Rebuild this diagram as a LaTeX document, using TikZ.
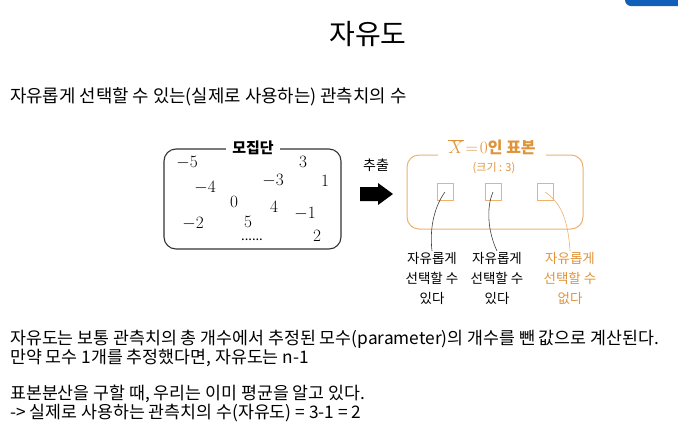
\documentclass[tikz,border=0pt]{standalone}
\usepackage[no-math]{fontspec}
\setmainfont{Noto Sans CJK KR}
\definecolor{orgline}{RGB}{236,178,110}
\definecolor{orgtext}{RGB}{224,148,58}
\definecolor{tabblue}{RGB}{16,96,186}
\begin{document}
\begin{tikzpicture}[x=1pt,y=-1pt,
    body/.style={anchor=west,inner sep=0pt,font=\fontsize{17.3}{20}\selectfont},
    num/.style={inner sep=0pt,font=\fontsize{16}{18}\selectfont},
    slot/.style={draw=orgline,line width=0.9pt,minimum width=16pt,minimum height=17pt,inner sep=0pt},
    note/.style={align=center,inner sep=1pt,font=\fontsize{13.5}{20}\selectfont},
    lead/.style={line width=0.6pt,draw=black!75}]
  \useasboundingbox (0,0) rectangle (678,440);
  % blue tab in the corner
  \fill[tabblue,rounded corners=6pt] (625,-8) -- (625,6) -- (690,6) -- (690,-8) -- cycle;
  \node (title) at (368,34) {\fontsize{28}{32}\selectfont 자유도};
  \node[body,font=\fontsize{17.8}{20}\selectfont] (intro) at (10,97) {자유롭게 선택할 수 있는(실제로 사용하는) 관측치의 수};

  % population
  \draw[line width=1.1pt,black!80,rounded corners=12pt] (164,149) rectangle (341,249);
  \node[fill=white,inner xsep=6pt,inner ysep=1pt,font=\fontsize{15}{18}\selectfont\bfseries] (pop) at (253,148) {모집단};
  \node[num] (n1) at (187,163) {$-5$};
  \node[num] (n2) at (303,162) {$3$};
  \node[num] (n3) at (273,181) {$-3$};
  \node[num] (n4) at (325,181) {$1$};
  \node[num] (n5) at (205,188) {$-4$};
  \node[num] (n6) at (234,202) {$0$};
  \node[num] (n7) at (274,207) {$4$};
  \node[num] (n8) at (305,214) {$-1$};
  \node[num] (n9) at (193,224) {$-2$};
  \node[num] (n10) at (248,222) {$5$};
  \node[inner sep=0pt,font=\fontsize{13}{14}\selectfont] (n11) at (252,240) {......};
  \node[num] (n12) at (317,236) {$2$};

  % extraction arrow
  \node[font=\fontsize{14}{16}\selectfont] (pick) at (376,165) {추출};
  \fill (360,187) -- (378,187) -- (378,183) -- (393,194) -- (378,205) -- (378,201) -- (360,201) -- cycle;

  % sample
  \draw[orgline,line width=1pt,rounded corners=12pt] (407,155) rectangle (583,229);
  \node[fill=white,inner xsep=10pt,inner ysep=1pt,text=orgtext,font=\fontsize{16}{19}\selectfont] (smp) at (492,147)
    {$\overline{X}\!=\!0$\textbf{인 표본}};
  \node[text=orgtext,font=\fontsize{11}{13}\selectfont] (size) at (494,168) {(크기 : 3)};
  \node[slot] (s1) at (445,192) {};
  \node[slot] (s2) at (493,192) {};
  \node[slot] (s3) at (545,192) {};

  \node[note,anchor=north] (l1) at (432,251) {자유롭게\\선택할 수\\있다};
  \node[note,anchor=north] (l2) at (497,251) {자유롭게\\선택할 수\\있다};
  \node[note,anchor=north,text=orgtext] (l3) at (570,251) {자유롭게\\선택할 수\\없다};
  \draw[lead] (s1.center) .. controls (436,204) and (429,225) .. (l1.north);
  \draw[lead] (s2.center) .. controls (486,208) and (488,232) .. (l2.north);
  \draw[lead,draw=orgline] (s3.center) .. controls (560,202) and (568,218) .. (l3.north);

  % explanation
  \node[body] (t1) at (10,339) {자유도는 보통 관측치의 총 개수에서 추정된 모수(parameter)의 개수를 뺀 값으로 계산된다.};
  \node[body] (t2) at (10,358) {만약 모수 1개를 추정했다면, 자유도는 n-1};
  \node[body] (t3) at (10,394) {표본분산을 구할 때, 우리는 이미 평균을 알고 있다.};
  \node[body] (t4) at (10,413) {-> 실제로 사용하는 관측치의 수(자유도) = 3-1 = 2};
\end{tikzpicture}
\end{document}
